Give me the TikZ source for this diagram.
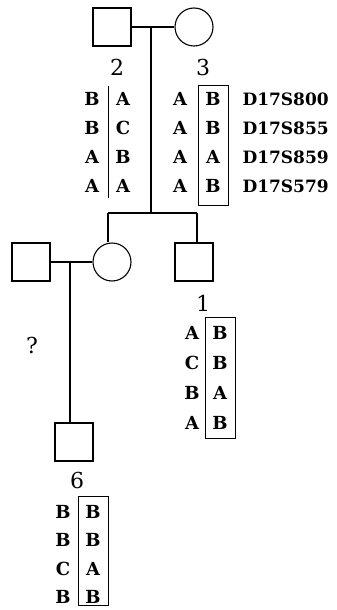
\documentclass[tikz,border=0pt]{standalone}
\usepackage{fontspec}
\setmainfont{DejaVu Serif}
\usetikzlibrary{positioning}

\begin{document}
\begin{tikzpicture}[x=1pt, y=-1pt, line width=1.1pt,
  font=\fontsize{18}{20}\selectfont\bfseries,
  male/.style={draw, minimum size=38pt, inner sep=0pt},
  female/.style={draw, circle, minimum size=38pt, inner sep=0pt},
  allele/.style={inner sep=0pt},
  pnum/.style={inner sep=0pt, font=\fontsize{22}{24}\selectfont},
  hap/.style={draw, line width=0.9pt, inner sep=0pt, minimum width=30pt},
  marker/.style={anchor=west, inner sep=0pt, font=\fontsize{17}{19}\selectfont\bfseries}]
  \useasboundingbox (0,0) rectangle (337,610);
  % parents
  \node[male]   (p2) at (112,27) {};
  \node[female] (p3) at (194,27) {};
  \coordinate (m1) at (151,27);
  \draw (p2) -- (p3);
  % sibship
  \coordinate (sb) at (151,213);
  \coordinate (sl) at (108,213);
  \coordinate (sr) at (197,213);
  \draw (m1) -- (sb);
  \draw (sl) -- (sr);
  % second generation
  \node[male]   (sp) at (31,262) {};
  \node[female] (d5) at (112,262) {};
  \node[male]   (s1) at (194,262) {};
  \draw (sl) -- (sl |- d5.north);
  \draw (sr) -- (sr |- s1.north);
  \draw (sp) -- (d5);
  \coordinate (m2) at (70,262);
  \node[male]   (s6) at (74,442) {};
  \draw (m2) -- (m2 |- s6.north);
  % numbers
  \node[pnum] (n2) at (117,67) {2};
  \node[pnum] (n3) at (203,67) {3};
  \node[pnum] (n1) at (203,303) {1};
  \node[pnum] (n6) at (77,480) {6};
  \node[pnum] (q) at (32,345) {?};
  % haplotypes 2 and 3
  \foreach \a/\b/\c/\d/\mk [count=\i] in
      {B/A/A/B/D17S800, B/C/A/B/D17S855, A/B/A/A/D17S859, A/A/A/B/D17S579}{
    \node[allele] (a2\i) at (92,70+29*\i) {\a};
    \node[allele] (b2\i) at (123,70+29*\i) {\b};
    \node[allele] (a3\i) at (180,70+29*\i) {\c};
    \node[allele] (b3\i) at (213,70+29*\i) {\d};
    \node[marker] (mk\i) at (242,70+29*\i) {\mk};
  }
  \draw[line width=0.9pt] (108,86) -- (108,198);
  \node[hap, minimum height=120pt] (h3) at (213,145) {};
  % haplotype 1
  \foreach \a/\b [count=\i] in {A/B, C/B, B/A, A/B}{
    \node[allele] (a1\i) at (192,303+30*\i) {\a};
    \node[allele] (b1\i) at (220,303+30*\i) {\b};
  }
  \node[hap, minimum height=121pt] (h1) at (220,377.5) {};
  % haplotype 6
  \foreach \a/\b [count=\i] in {B/B, B/B, C/A, B/B}{
    \node[allele] (a6\i) at (63,483+28.5*\i) {\a};
    \node[allele] (b6\i) at (93,483+28.5*\i) {\b};
  }
  \node[hap, minimum height=109pt] (h6) at (93,550.5) {};
\end{tikzpicture}
\end{document}
